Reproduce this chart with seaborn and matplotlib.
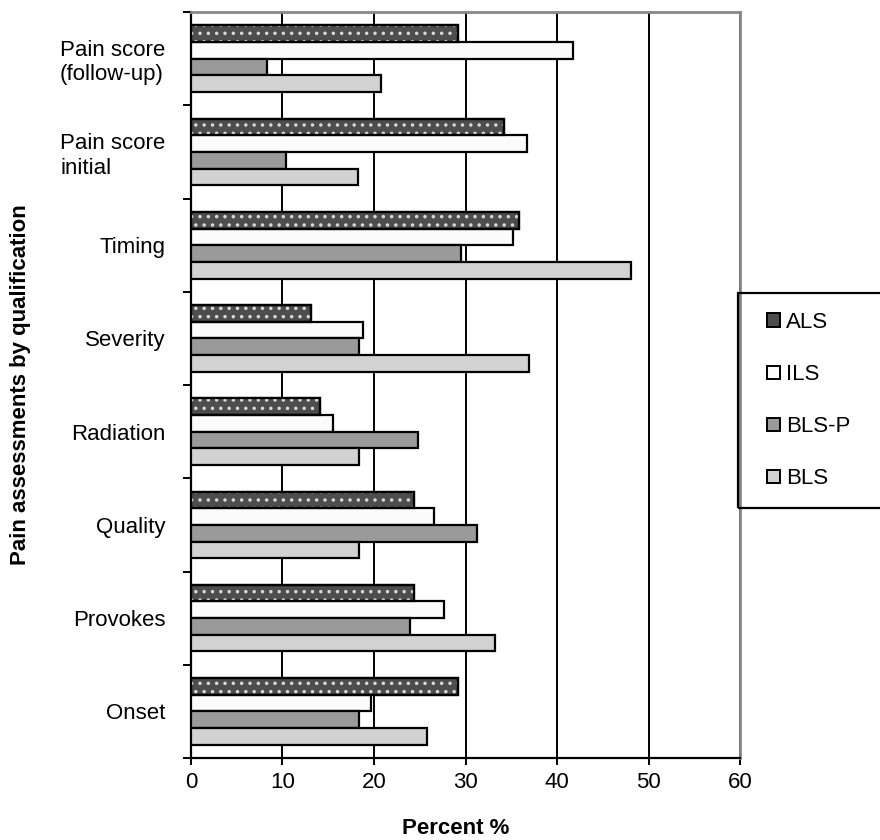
import numpy as np
import pandas as pd
import matplotlib
matplotlib.use('Agg')
import matplotlib.pyplot as plt
import seaborn as sns
from matplotlib.patches import Rectangle, Patch

# Data
categories = ['Pain score\n(follow-up)', 'Pain score\ninitial', 'Timing', 'Severity',
              'Radiation', 'Quality', 'Provokes', 'Onset']
groups = ['ALS', 'ILS', 'BLS-P', 'BLS']
als = [29.2, 34.2, 35.8, 13.1, 14.1, 24.4, 24.4, 29.2]
ils = [41.7, 36.7, 35.2, 18.8, 15.5, 26.6, 27.7, 19.7]
bls_p = [8.3, 10.4, 29.5, 18.4, 24.8, 31.3, 23.9, 18.4]
bls = [20.8, 18.3, 48.1, 36.9, 18.4, 18.4, 33.2, 25.8]
colors = ['#4d4d4d', '#fbfbfb', '#9a9a9a', '#d2d2d2']

df = pd.DataFrame({'Category': categories * 4,
                   'Group': sum([[g] * len(categories) for g in groups], []),
                   'Percent': als + ils + bls_p + bls})

sns.set_style('white')
plt.rcParams['font.family'] = ['Liberation Sans', 'DejaVu Sans']
plt.rcParams['text.color'] = 'black'
plt.rcParams['axes.labelcolor'] = 'black'
plt.rcParams['xtick.color'] = 'black'
plt.rcParams['ytick.color'] = 'black'
plt.rcParams['hatch.linewidth'] = 1.3

fs = 16

fig = plt.figure(figsize=(8.8, 8.4), dpi=100)
ax = fig.add_axes([0.217, 0.0976, 0.624, 0.888])

sns.barplot(data=df, y='Category', x='Percent', hue='Group', order=categories,
            hue_order=groups, palette=colors, orient='h', width=0.715,
            edgecolor='black', linewidth=1.6, saturation=1, legend=False, ax=ax, zorder=3)

# white dots on the ALS bars
for p in ax.containers[0]:
    ax.add_patch(Rectangle(p.get_xy(), p.get_width(), p.get_height(), facecolor='none',
                           edgecolor='#d8d8d8', hatch='..', linewidth=0, zorder=3.5))
    ax.add_patch(Rectangle(p.get_xy(), p.get_width(), p.get_height(), facecolor='none',
                           edgecolor='black', linewidth=1.6, zorder=3.6))

ax.set_xlim(0, 60)
ax.set_ylim(len(categories) - 0.5, -0.5)
ax.set_xticks(np.arange(0, 61, 10))
ax.xaxis.grid(True, color='black', linewidth=1.4, zorder=0)
ax.set_axisbelow(True)

ax.set_yticks(np.arange(-0.5, len(categories), 1), minor=True)
ax.tick_params(axis='y', which='major', length=0, pad=18.5, labelsize=fs)
ax.tick_params(axis='y', which='minor', length=6, width=1.4, direction='out', left=True)
ax.tick_params(axis='x', which='major', length=5, width=1.4, direction='out',
               bottom=True, labelsize=fs, pad=5)
for lab in ax.get_yticklabels():
    lab.set_multialignment('left')

for side in ['left', 'bottom']:
    ax.spines[side].set_color('black')
    ax.spines[side].set_linewidth(1.6)
for side in ['top', 'right']:
    ax.spines[side].set_color('#888888')
    ax.spines[side].set_linewidth(2)

ax.set_xlabel('Percent %', fontsize=fs, fontweight='bold', va='center')
ax.xaxis.set_label_coords(0.483, -0.094)
ax.set_ylabel('Pain assessments by qualification', fontsize=fs, fontweight='bold', va='center')
ax.yaxis.set_label_coords(-0.31, 0.5)

handles = [Patch(facecolor=c, edgecolor='black', linewidth=1.4) for c in colors]
leg = fig.legend(handles, groups, loc='center left', bbox_to_anchor=(0.872, 0.523),
                 fontsize=fs, frameon=False,
                 handlelength=0.55, handleheight=0.55, handletextpad=0.3,
                 labelspacing=1.4, borderpad=0, borderaxespad=0)
# legend box, running off the right edge like the original
fig.patches.append(Rectangle((0.8386, 0.395), 0.2, 0.256, transform=fig.transFigure,
                             facecolor='none', edgecolor='black', linewidth=1.6))

fig.savefig('out.png', dpi=100)
